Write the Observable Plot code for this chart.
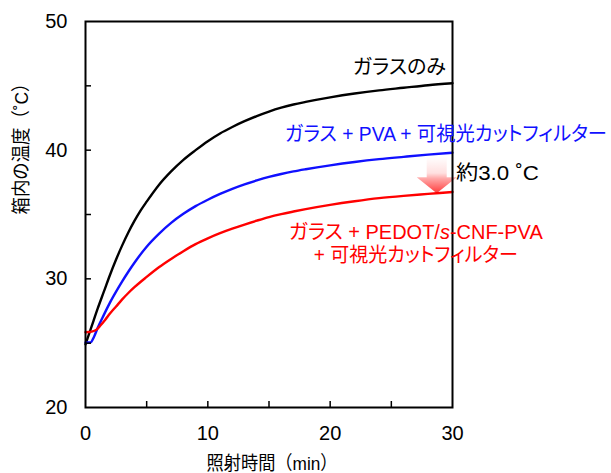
<!DOCTYPE html>
<html><head><meta charset="utf-8">
<script src="https://cdn.jsdelivr.net/npm/d3@7"></script>
<script src="https://cdn.jsdelivr.net/npm/@observablehq/plot@0.6"></script>
<style>
html,body{margin:0;padding:0;background:#fff;}
#chart svg text{font-feature-settings:"palt";}
#chart svg text.axis-title{font-feature-settings:normal;}
</style></head><body><div id="chart"></div>
<script>
// ---- data (time in min, temperature in °C) ----
const timeGlass = [0,0.5,1,1.5,2,2.5,3,3.5,4,4.5,5,6,7,8,9,10,11,12,13,14,15,16,17,18,20,22,24,26,28,30];
const tempGlass = [24.9,26.3,27.7,29.0,30.3,31.5,32.6,33.6,34.5,35.3,36.0,37.3,38.35,39.25,40.0,40.7,41.3,41.8,42.25,42.65,43.0,43.3,43.55,43.75,44.1,44.4,44.65,44.85,45.05,45.2];
const timePVA = [0,0.4,0.7,1,1.5,2,2.5,3,3.5,4,5,6,7,8,9,10,11,12,13,14,15,16,17,18,20,22,24,26,28,30];
const tempPVA = [25.05,25.05,25.5,26.2,27.2,28.15,29.0,29.8,30.55,31.25,32.5,33.5,34.35,35.05,35.65,36.15,36.6,37.0,37.35,37.65,37.92,38.15,38.35,38.52,38.82,39.08,39.3,39.48,39.65,39.8];
const timePEDOT = [0,0.5,0.9,1.2,1.6,2,2.5,3,3.5,4,5,6,7,8,9,10,11,12,13,14,15,16,17,18,20,22,24,26,28,30];
const tempPEDOT = [25.85,25.9,26.05,26.35,26.8,27.3,27.85,28.4,28.9,29.35,30.15,30.9,31.55,32.15,32.7,33.15,33.55,33.9,34.22,34.52,34.8,35.03,35.23,35.42,35.75,36.03,36.27,36.45,36.6,36.75];

const xTickLabels = [0,10,20,30];
const yTickLabels = [20,30,40,50];
const xMinorTicks = [5,10,15,20,25];
const yMinorTicks = [25,30,35,40,45];

const seriesNames = ["ガラスのみ","ガラス + PVA + 可視光カットフィルター","ガラス + PEDOT/s-CNF-PVA + 可視光カットフィルター"];
const seriesColors = ["#000000","#1010ff","#ff0000"];
const seriesTimes = [timeGlass,timePVA,timePEDOT];
const seriesTemps = [tempGlass,tempPVA,tempPEDOT];

// annotations (data coordinates)
const annotations = [
  {text:"ガラスのみ", x:29.46, y:46.38, color:"#000000", anchor:"end"},
  {text:"ガラス + PVA + 可視光カットフィルター", x:16.3, y:41.22, color:"#1010ff", anchor:"start"},
  {text:"約3.0 ˚C", x:30.28, y:38.19, color:"#000000", anchor:"start"},
  {text:"ガラス + PEDOT/s-CNF-PVA", x:27.0, y:33.57, color:"#ff0000", anchor:"middle"},
  {text:"+ 可視光カットフィルター", x:27.0, y:31.82, color:"#ff0000", anchor:"middle"}
];
const arrow = {t:28.75, top:39.45, tip:36.62};

const xLabel = "照射時間（min）";
const yLabel = "箱内の温度（˚C）";

// rendered text widths (px) matching the reference layout
const textWidths = new Map([
  ["ガラスのみ", 93],
  ["ガラス + PVA + 可視光カットフィルター", 322],
  ["約3.0 ˚C", 83],
  ["ガラス + PEDOT/s-CNF-PVA", 254],
  ["+ 可視光カットフィルター", 204],
  [xLabel, 131],
  [yLabel, 140]
]);

// ---- marks ----
function arrowMark(index, scales, values, dimensions, context) {
  const doc = (context && context.document) || document;
  const ns = "http://www.w3.org/2000/svg";
  const g = doc.createElementNS(ns, "g");
  const x = scales.x(arrow.t), y0 = scales.y(arrow.top), y1 = scales.y(arrow.tip);
  const sw = 10, hw = 20, hh = 16;
  const yh = y1 - hh;
  const defs = doc.createElementNS(ns, "defs");
  const lg = doc.createElementNS(ns, "linearGradient");
  lg.setAttribute("id", "arrowGrad");
  lg.setAttribute("gradientUnits", "userSpaceOnUse");
  lg.setAttribute("x1", x); lg.setAttribute("x2", x);
  lg.setAttribute("y1", y0); lg.setAttribute("y2", y1);
  [[0,"#ffffff"],[0.45,"#ffe0e0"],[0.6,"#ffa8a8"],[1,"#ff3c3c"]].forEach(([o,c]) => {
    const s = doc.createElementNS(ns, "stop");
    s.setAttribute("offset", o); s.setAttribute("stop-color", c);
    lg.appendChild(s);
  });
  defs.appendChild(lg); g.appendChild(defs);
  const p = doc.createElementNS(ns, "path");
  p.setAttribute("d", `M${x-sw},${y0}L${x+sw},${y0}L${x+sw},${yh}L${x+hw},${yh}L${x},${y1}L${x-hw},${yh}L${x-sw},${yh}Z`);
  p.setAttribute("fill", "url(#arrowGrad)");
  g.appendChild(p);
  return g;
}

const lineMarks = seriesNames.map((name, k) =>
  Plot.line(seriesTimes[k].map((t, i) => ({t, v: seriesTemps[k][i]})),
    {x: "t", y: "v", stroke: seriesColors[k], strokeWidth: 2.4, curve: "monotone-x"}));

const textMarks = annotations.map(a =>
  Plot.text([a], {x: "x", y: "y", text: "text", fill: a.color, textAnchor: a.anchor, fontSize: 20, lineAnchor: "middle"}));

const chart = Plot.plot({
  width: 611, height: 473,
  marginLeft: 85, marginRight: 159, marginTop: 21, marginBottom: 66,
  style: {fontFamily: "'Liberation Sans','Noto Sans CJK JP',sans-serif", background: "#fff", color: "#000", overflow: "visible"},
  x: {domain: [0, 30]},
  y: {domain: [20, 50]},
  marks: [
    arrowMark,
    ...lineMarks,
    Plot.tickX(xMinorTicks, {x: d => d, insetTop: 380, strokeWidth: 1.5, stroke: "#000"}),
    Plot.tickY(yMinorTicks, {y: d => d, insetRight: 361, strokeWidth: 1.5, stroke: "#000"}),
    Plot.frame({stroke: "#000", strokeWidth: 2}),
    Plot.axisX({ticks: xTickLabels, tickSize: 0, tickPadding: 18, fontSize: 20, label: null}),
    Plot.axisY({ticks: yTickLabels, tickSize: 0, tickPadding: 18, fontSize: 20, label: null}),
    ...textMarks,
    Plot.text([xLabel], {text: d => d, frameAnchor: "bottom", dy: 56, dx: 3, fontSize: 19, lineAnchor: "middle"}),
    Plot.text([yLabel], {text: d => d, frameAnchor: "left", dx: -64, rotate: -90, fontSize: 19, lineAnchor: "middle"})
  ]
});

const ns = "http://www.w3.org/2000/svg";
chart.querySelectorAll("text").forEach(t => {
  const s = t.textContent;
  if (s === "ガラス + PEDOT/s-CNF-PVA") {
    // italic "s" in PEDOT/s-CNF
    t.textContent = "";
    [["ガラス + PEDOT/", null], ["s", "italic"], ["-CNF-PVA", null]].forEach(([part, st]) => {
      const ts = document.createElementNS(ns, "tspan");
      ts.textContent = part;
      if (st) ts.setAttribute("font-style", st);
      t.appendChild(ts);
    });
  }
  if (s === xLabel || s === yLabel) t.classList.add("axis-title");
  if (textWidths.has(s)) {
    t.setAttribute("textLength", textWidths.get(s));
    t.setAttribute("lengthAdjust", "spacingAndGlyphs");
  }
});
document.getElementById("chart").appendChild(chart);
</script></body></html>
